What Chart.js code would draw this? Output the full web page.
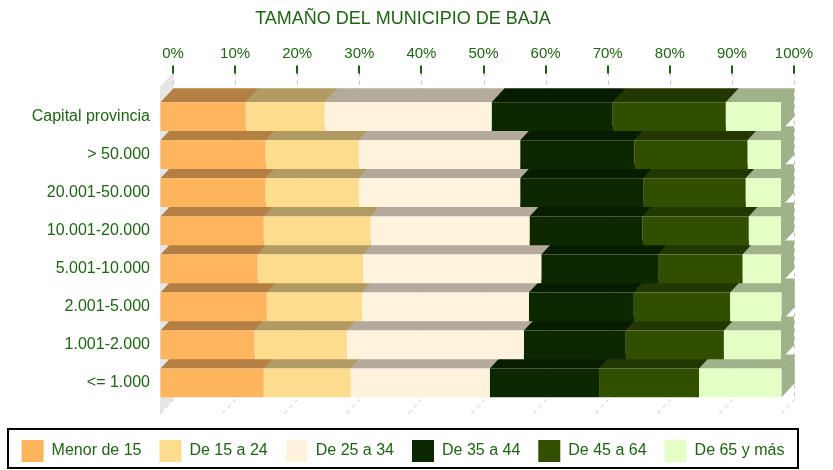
<!DOCTYPE html>
<html>
<head>
<meta charset="utf-8">
<script src="https://cdn.jsdelivr.net/npm/chart.js@4/dist/chart.umd.min.js"></script>
<style>
  html, body { margin: 0; padding: 0; background: #fff; }
  #wrap { width: 833px; height: 470px; }
</style>
</head>
<body>
<div id="wrap"><canvas id="chart"></canvas></div>
<script>
// sizes of town (rows) and age groups (stacks), values in %
const categories = ['Capital provincia', '> 50.000', '20.001-50.000', '10.001-20.000',
    '5.001-10.000', '2.001-5.000', '1.001-2.000', '<= 1.000'];
const menor15 = [13.8, 17.0, 17.0, 16.7, 15.7, 17.2, 15.2, 16.7];
const de15a24 = [12.7, 15.0, 15.0, 17.2, 17.0, 15.3, 14.9, 14.0];
const de25a34 = [26.9, 26.0, 26.0, 25.6, 28.7, 26.9, 28.5, 22.4];
const de35a44 = [19.5, 18.4, 19.8, 18.2, 18.8, 16.9, 16.4, 17.6];
const de45a64 = [18.2, 18.2, 16.5, 17.1, 13.6, 15.5, 15.8, 16.1];
const de65 = [8.9, 5.4, 5.7, 5.2, 6.2, 8.3, 9.2, 13.3];
const seriesNames = ['Menor de 15', 'De 15 a 24', 'De 25 a 34', 'De 35 a 44', 'De 45 a 64', 'De 65 y más'];
const seriesColors = ['#FFB55E', '#FEDC8D', '#FFF3DD', '#0C2800', '#324F00', '#E5FEC5'];

const green = '#1f6414';
const depthX = 13, depthY = 14;

function shade(hex, f) {
    const n = parseInt(hex.slice(1), 16);
    const r = Math.round(((n >> 16) & 255) * f);
    const g = Math.round(((n >> 8) & 255) * f);
    const b = Math.round((n & 255) * f);
    return 'rgb(' + r + ',' + g + ',' + b + ')';
}

// back wall, floor and the depth faces of every bar
const depthPlugin = {
    id: 'depth',
    beforeDatasetsDraw(chart) {
        const ctx = chart.ctx;
        const area = chart.chartArea;
        const xs = chart.scales.x;
        ctx.save();

        // left wall
        ctx.fillStyle = '#e6e6e6';
        ctx.beginPath();
        ctx.moveTo(area.left, area.top - 11);
        ctx.lineTo(area.left + depthX, area.top - 11 - depthY);
        ctx.lineTo(area.left + depthX, area.bottom + 11.5 - depthY);
        ctx.lineTo(area.left, area.bottom + 11.5);
        ctx.closePath();
        ctx.fill();

        // grid lines on back wall and floor
        ctx.strokeStyle = '#c4c4c4';
        ctx.lineWidth = 1;
        ctx.setLineDash([4, 4]);
        xs.ticks.forEach(t => {
            const px = Math.round(xs.getPixelForValue(t.value)) + 0.5;
            ctx.beginPath();
            ctx.moveTo(px + depthX, area.top - 11 - depthY);
            ctx.lineTo(px + depthX, area.bottom + 11.5 - depthY);
            ctx.stroke();
            ctx.beginPath();
            ctx.moveTo(px, area.bottom + 11.5);
            ctx.lineTo(px + depthX, area.bottom + 11.5 - depthY);
            ctx.stroke();
        });
        ctx.setLineDash([]);

        // dark tick marks under the labels
        ctx.strokeStyle = '#176010';
        ctx.lineWidth = 2;
        xs.ticks.forEach(t => {
            const px = Math.round(xs.getPixelForValue(t.value));
            ctx.beginPath();
            ctx.moveTo(px + depthX, area.top - 32);
            ctx.lineTo(px + depthX, area.top - 24);
            ctx.stroke();
        });

        // bar tops and right side, lower rows first
        const n = chart.data.datasets.length;
        for (let i = categories.length - 1; i >= 0; i--) {
            for (let d = 0; d < n; d++) {
                const el = chart.getDatasetMeta(d).data[i];
                const p = el.getProps(['x', 'y', 'base', 'height'], true);
                const x0 = Math.min(p.x, p.base), x1 = Math.max(p.x, p.base);
                const yt = p.y - p.height / 2, yb = p.y + p.height / 2;
                ctx.fillStyle = shade(seriesColors[d], 0.7);
                ctx.beginPath();
                ctx.moveTo(x0, yt);
                ctx.lineTo(x1 + 0.5, yt);
                ctx.lineTo(x1 + 0.5 + depthX, yt - depthY);
                ctx.lineTo(x0 + depthX, yt - depthY);
                ctx.closePath();
                ctx.fill();
                if (d === n - 1) {
                    ctx.beginPath();
                    ctx.moveTo(x1, yt);
                    ctx.lineTo(x1 + depthX, yt - depthY);
                    ctx.lineTo(x1 + depthX, yb - depthY);
                    ctx.lineTo(x1, yb);
                    ctx.closePath();
                    ctx.fill();
                }
            }
        }
        ctx.restore();
    },
    afterLayout(chart) {
        // push the legend items down a little inside its box
        const lg = chart.legend;
        lg.top += 2;
        lg.bottom += 2;
    },
    afterDraw(chart) {
        const ctx = chart.ctx;
        const lg = chart.legend;
        const cx = (lg.left + lg.right) / 2;
        ctx.save();
        ctx.strokeStyle = '#000';
        ctx.lineWidth = 2;
        ctx.strokeRect(cx - 395, 429, 790, 39);
        ctx.restore();
    }
};

const datasets = [menor15, de15a24, de25a34, de35a44, de45a64, de65].map((vals, k) => ({
    label: seriesNames[k],
    data: vals,
    backgroundColor: seriesColors[k],
    borderWidth: 0,
    categoryPercentage: 0.755,
    barPercentage: 1
}));

new Chart(document.getElementById('chart'), {
    type: 'bar',
    data: { labels: categories, datasets: datasets },
    plugins: [depthPlugin],
    options: {
        indexAxis: 'y',
        responsive: true,
        maintainAspectRatio: false,
        animation: false,
        layout: { padding: { left: 0, right: 27, top: 0, bottom: 0 } },
        scales: {
            x: {
                position: 'top',
                stacked: true,
                min: 0,
                max: 100,
                border: { display: false },
                grid: { display: true, drawOnChartArea: false, color: 'rgba(0,0,0,0)', tickLength: 35 },
                ticks: {
                    stepSize: 10,
                    padding: 0,
                    labelOffset: depthX,
                    color: green,
                    font: { family: 'Liberation Sans', size: 15 },
                    callback: v => v + '%'
                }
            },
            // empty strip under the floor, above the legend
            x2: {
                type: 'linear',
                position: 'bottom',
                border: { display: false },
                grid: { display: false, drawTicks: false },
                ticks: { display: false },
                afterFit: s => { s.height = 18; }
            },
            y: {
                stacked: true,
                border: { display: false },
                grid: { display: false, drawTicks: false },
                ticks: { padding: 10, color: green, font: { family: 'Liberation Sans', size: 16 } },
                afterFit: s => { s.width = 160; }
            },
            y2: {
                type: 'linear',
                position: 'right',
                border: { display: false },
                grid: { display: false, drawTicks: false },
                ticks: { display: false },
                afterFit: s => { s.width = 25; }
            }
        },
        plugins: {
            title: {
                display: true,
                text: 'TAMAÑO DEL MUNICIPIO DE BAJA',
                color: green,
                font: { family: 'Liberation Sans', size: 18, weight: 'normal' },
                padding: { top: 8, bottom: 15 }
            },
            legend: {
                position: 'bottom',
                labels: {
                    boxWidth: 22,
                    boxHeight: 22,
                    padding: 18,
                    color: green,
                    font: { family: 'Liberation Sans', size: 16 }
                }
            },
            tooltip: { enabled: false }
        }
    }
});
</script>
</body>
</html>
